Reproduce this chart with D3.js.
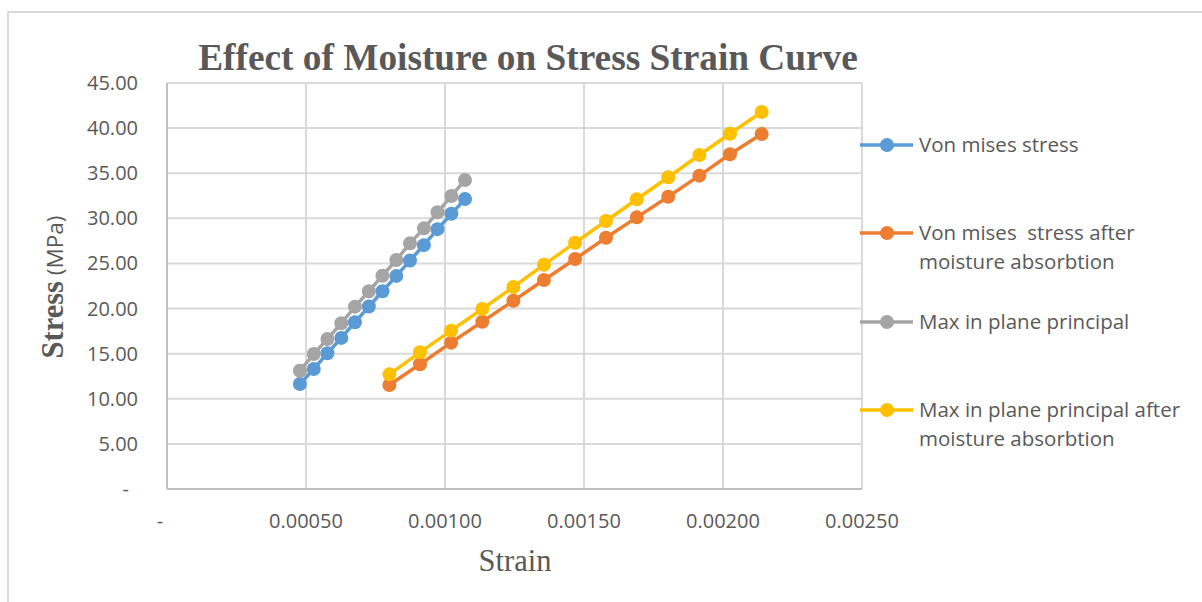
<!DOCTYPE html>
<html><head><meta charset="utf-8">
<script src="https://cdn.jsdelivr.net/npm/d3@7"></script>
<style>
html,body{margin:0;padding:0;background:#fff;}
svg{display:block;}
</style></head>
<body>
<svg id="c" width="1202" height="602"></svg>
<script>
// ---- data ----
const seriesNames = [
  "Von mises stress",
  "Von mises  stress after moisture absorbtion",
  "Max in plane principal",
  "Max in plane principal after moisture absorbtion"
];
const strainDry = [0.000478,0.000528,0.000577,0.000627,0.000676,0.000726,0.000775,0.000825,0.000874,0.000924,0.000973,0.001023,0.001072];
const strainWet = [0.000800,0.000910,0.001022,0.001134,0.001246,0.001356,0.001468,0.001579,0.001690,0.001803,0.001915,0.002025,0.002139];
const vonMises = [11.64,13.30,15.05,16.75,18.48,20.22,21.92,23.62,25.32,27.03,28.80,30.50,32.14];
const vonMisesWet = [11.53,13.82,16.22,18.54,20.87,23.17,25.49,27.85,30.11,32.40,34.73,37.10,39.35];
const maxPrincipal = [13.11,14.96,16.63,18.37,20.21,21.92,23.64,25.38,27.23,28.89,30.67,32.48,34.25];
const maxPrincipalWet = [12.71,15.15,17.55,19.95,22.39,24.86,27.30,29.70,32.11,34.55,37.02,39.38,41.79];
const xTicks = [0,0.0005,0.0010,0.0015,0.0020,0.0025];
const yTicks = [0,5,10,15,20,25,30,35,40,45];
const colors = ["#5B9BD5","#ED7D31","#A5A5A5","#FFC000"];

const series = [
  {name: seriesNames[0], x: strainDry, y: vonMises, color: colors[0]},
  {name: seriesNames[1], x: strainWet, y: vonMisesWet, color: colors[1]},
  {name: seriesNames[2], x: strainDry, y: maxPrincipal, color: colors[2]},
  {name: seriesNames[3], x: strainWet, y: maxPrincipalWet, color: colors[3]}
];

const svg = d3.select("#c");
const textColor = "#595959";
const sans = "'Open Sans', 'Noto Sans', sans-serif";
const serif = "'Liberation Serif', 'DejaVu Serif', serif";

// outer frame
svg.append("rect").attr("x",8).attr("y",12).attr("width",1300).attr("height",700)
  .attr("fill","#fff").attr("stroke","#d9d9d9").attr("stroke-width",2);

const x = d3.scaleLinear().domain([0,0.0025]).range([167,862]);
const y = d3.scaleLinear().domain([0,45]).range([489,83]);

// gridlines
svg.append("g").selectAll("line").data(yTicks).join("line")
  .attr("x1",x(0)).attr("x2",x(0.0025)).attr("y1",d=>y(d)).attr("y2",d=>y(d))
  .attr("stroke","#d9d9d9").attr("stroke-width",2);
svg.append("g").selectAll("line").data(xTicks).join("line")
  .attr("x1",d=>x(d)).attr("x2",d=>x(d)).attr("y1",y(0)).attr("y2",y(45))
  .attr("stroke","#d9d9d9").attr("stroke-width",2);
// axis lines
svg.append("line").attr("x1",x(0)).attr("x2",x(0.0025)).attr("y1",y(0)).attr("y2",y(0))
  .attr("stroke","#bfbfbf").attr("stroke-width",2);
svg.append("line").attr("x1",x(0)).attr("x2",x(0)).attr("y1",y(0)).attr("y2",y(45))
  .attr("stroke","#bfbfbf").attr("stroke-width",2);

// tick labels
svg.append("g").selectAll("text").data(yTicks).join("text")
  .attr("x",d=>d===0?129:138).attr("y",d=>y(d)+7)
  .attr("text-anchor","end").attr("font-family",sans).attr("font-size",20)
  .attr("fill",textColor)
  .text(d=>d===0?"-":d3.format(".2f")(d));
svg.append("g").selectAll("text").data(xTicks).join("text")
  .attr("x",d=>d===0?x(d)-7:x(d)).attr("y",528)
  .attr("text-anchor","middle").attr("font-family",sans).attr("font-size",20)
  .attr("fill",textColor)
  .text(d=>d===0?"-":d3.format(".5f")(d));

// series
const line = d3.line().x(d=>x(d[0])).y(d=>y(d[1]));
series.forEach(s=>{
  const pts = s.x.map((v,i)=>[v,s.y[i]]);
  const g = svg.append("g");
  g.append("path").attr("d",line(pts)).attr("fill","none")
    .attr("stroke",s.color).attr("stroke-width",3.5).attr("stroke-linejoin","round");
  g.selectAll("circle").data(pts).join("circle")
    .attr("cx",d=>x(d[0])).attr("cy",d=>y(d[1])).attr("r",7).attr("fill",s.color);
});

// title
svg.append("text").attr("x",528).attr("y",70).attr("text-anchor","middle")
  .attr("font-family",serif).attr("font-weight","bold").attr("font-size",37.3)
  .attr("fill",textColor).text("Effect of Moisture on Stress Strain Curve");

// axis titles
svg.append("text").attr("x",515).attr("y",571).attr("text-anchor","middle")
  .attr("font-family",serif).attr("font-size",30.5).attr("fill",textColor).text("Strain");
const yt = svg.append("text").attr("transform","translate(63,287) rotate(-90)")
  .attr("text-anchor","middle").attr("fill",textColor);
yt.append("tspan").attr("font-family",serif).attr("font-weight","bold").attr("font-size",30.5).text("Stress");
yt.append("tspan").attr("font-family",sans).attr("font-size",22.5).text(" (MPa)");

// legend
const legendRows = [
  {lines:["Von mises stress"], y:145},
  {lines:["Von mises  stress after","moisture absorbtion"], y:233},
  {lines:["Max in plane principal"], y:322},
  {lines:["Max in plane principal after","moisture absorbtion"], y:410}
];
legendRows.forEach((r,i)=>{
  const g = svg.append("g");
  g.append("line").attr("x1",860).attr("x2",913).attr("y1",r.y).attr("y2",r.y)
    .attr("stroke",series[i].color).attr("stroke-width",3.5);
  g.append("circle").attr("cx",887).attr("cy",r.y).attr("r",7).attr("fill",series[i].color);
  const t = g.append("text").attr("font-family",sans).attr("font-size",20.5).attr("fill",textColor)
    .attr("xml:space","preserve").style("white-space","pre");
  r.lines.forEach((l,j)=>{
    t.append("tspan").attr("x",919).attr("y",r.y+7+j*29).text(l);
  });
});
</script>
</body></html>
